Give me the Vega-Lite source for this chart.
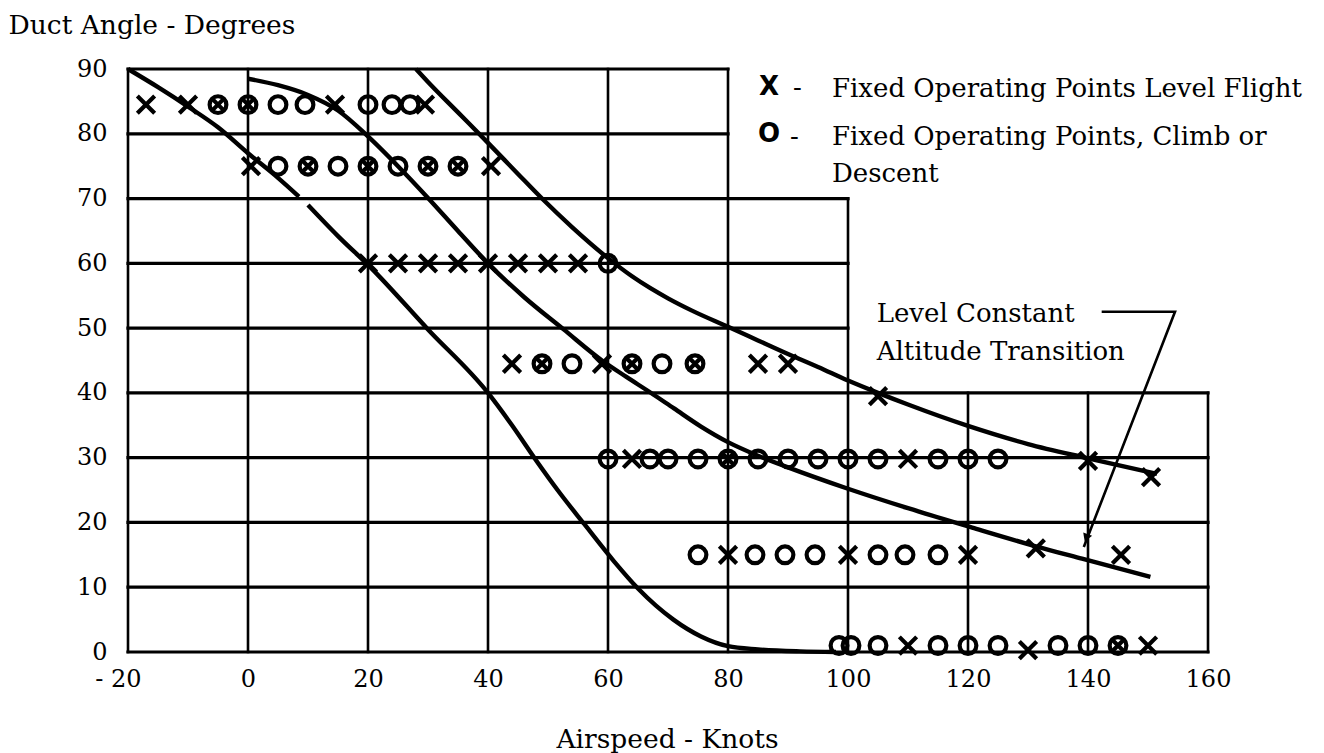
{
  "$schema": "https://vega.github.io/schema/vega-lite/v6.json",
  "width": 1080,
  "height": 583,
  "autosize": {"type": "none"},
  "padding": {"left": 128, "top": 69, "right": 116, "bottom": 101},
  "background": "white",
  "config": {"view": {"stroke": null}},
  "datasets": {
    "grid": [
      {"x": -20, "x2": 80, "y": 90, "y2": 90},
      {"x": -20, "x2": 80, "y": 80, "y2": 80},
      {"x": -20, "x2": 100, "y": 70, "y2": 70},
      {"x": -20, "x2": 100, "y": 60, "y2": 60},
      {"x": -20, "x2": 100, "y": 50, "y2": 50},
      {"x": -20, "x2": 160, "y": 40, "y2": 40},
      {"x": -20, "x2": 160, "y": 30, "y2": 30},
      {"x": -20, "x2": 160, "y": 20, "y2": 20},
      {"x": -20, "x2": 160, "y": 10, "y2": 10},
      {"x": -20, "x2": 160, "y": 0, "y2": 0},
      {"x": -20, "x2": -20, "y": 0, "y2": 90},
      {"x": 0, "x2": 0, "y": 0, "y2": 90},
      {"x": 20, "x2": 20, "y": 0, "y2": 90},
      {"x": 40, "x2": 40, "y": 0, "y2": 90},
      {"x": 60, "x2": 60, "y": 0, "y2": 90},
      {"x": 80, "x2": 80, "y": 0, "y2": 90},
      {"x": 100, "x2": 100, "y": 0, "y2": 70},
      {"x": 120, "x2": 120, "y": 0, "y2": 40},
      {"x": 140, "x2": 140, "y": 0, "y2": 40},
      {"x": 160, "x2": 160, "y": 0, "y2": 40}
    ],
    "curves": [
      {"c": "c1a", "x": -20, "y": 90},
      {"c": "c1a", "x": -15, "y": 87.2},
      {"c": "c1a", "x": -10, "y": 84.2},
      {"c": "c1a", "x": -5, "y": 81},
      {"c": "c1a", "x": 0, "y": 77},
      {"c": "c1a", "x": 5, "y": 73.2},
      {"c": "c1a", "x": 8.5, "y": 70.3},
      {"c": "c1b", "x": 10, "y": 69},
      {"c": "c1b", "x": 15, "y": 64.2},
      {"c": "c1b", "x": 20.5, "y": 59.3},
      {"c": "c1b", "x": 30, "y": 49.8},
      {"c": "c1b", "x": 40, "y": 40},
      {"c": "c1b", "x": 44, "y": 35},
      {"c": "c1b", "x": 48, "y": 29.6},
      {"c": "c1b", "x": 52, "y": 24.5},
      {"c": "c1b", "x": 56, "y": 19.8},
      {"c": "c1b", "x": 61, "y": 14},
      {"c": "c1b", "x": 65, "y": 9.8},
      {"c": "c1b", "x": 70.9, "y": 5},
      {"c": "c1b", "x": 75.5, "y": 2.4},
      {"c": "c1b", "x": 80, "y": 0.9},
      {"c": "c1b", "x": 85, "y": 0.4},
      {"c": "c1b", "x": 92, "y": 0.1},
      {"c": "c1b", "x": 98, "y": 0},
      {"c": "c2", "x": 0, "y": 88.5},
      {"c": "c2", "x": 5, "y": 87.5},
      {"c": "c2", "x": 10, "y": 86},
      {"c": "c2", "x": 15, "y": 83.6},
      {"c": "c2", "x": 20, "y": 79.6},
      {"c": "c2", "x": 25, "y": 75},
      {"c": "c2", "x": 30, "y": 70.1},
      {"c": "c2", "x": 35, "y": 65},
      {"c": "c2", "x": 40, "y": 60},
      {"c": "c2", "x": 46, "y": 54.8},
      {"c": "c2", "x": 52.6, "y": 49.8},
      {"c": "c2", "x": 59, "y": 45},
      {"c": "c2", "x": 63, "y": 42.5},
      {"c": "c2", "x": 67, "y": 40.1},
      {"c": "c2", "x": 71, "y": 37.6},
      {"c": "c2", "x": 75.5, "y": 34.8},
      {"c": "c2", "x": 80, "y": 32.4},
      {"c": "c2", "x": 85, "y": 30.3},
      {"c": "c2", "x": 90, "y": 28.5},
      {"c": "c2", "x": 100, "y": 25.2},
      {"c": "c2", "x": 110, "y": 22.2},
      {"c": "c2", "x": 120.7, "y": 19.2},
      {"c": "c2", "x": 131, "y": 16.4},
      {"c": "c2", "x": 139, "y": 14.4},
      {"c": "c2", "x": 150.4, "y": 11.6},
      {"c": "c3", "x": 28, "y": 90},
      {"c": "c3", "x": 30, "y": 88},
      {"c": "c3", "x": 35, "y": 83.3},
      {"c": "c3", "x": 40, "y": 78.6},
      {"c": "c3", "x": 45, "y": 73.8},
      {"c": "c3", "x": 49, "y": 70},
      {"c": "c3", "x": 54, "y": 65.6},
      {"c": "c3", "x": 60, "y": 60.8},
      {"c": "c3", "x": 64, "y": 58},
      {"c": "c3", "x": 67, "y": 56.2},
      {"c": "c3", "x": 70, "y": 54.6},
      {"c": "c3", "x": 74, "y": 52.7},
      {"c": "c3", "x": 80, "y": 50.2},
      {"c": "c3", "x": 85, "y": 48.1},
      {"c": "c3", "x": 90, "y": 46},
      {"c": "c3", "x": 95, "y": 44},
      {"c": "c3", "x": 100, "y": 41.9},
      {"c": "c3", "x": 105, "y": 40},
      {"c": "c3", "x": 110, "y": 38.2},
      {"c": "c3", "x": 120, "y": 34.9},
      {"c": "c3", "x": 130, "y": 32.1},
      {"c": "c3", "x": 140, "y": 29.9},
      {"c": "c3", "x": 151.5, "y": 27.5}
    ],
    "pts": [
      {"m": "X", "x": -17, "y": 84.5},
      {"m": "X", "x": -10, "y": 84.5},
      {"m": "XO", "x": -5, "y": 84.5},
      {"m": "XO", "x": 0, "y": 84.5},
      {"m": "O", "x": 5, "y": 84.5},
      {"m": "O", "x": 9.5, "y": 84.5},
      {"m": "X", "x": 14.5, "y": 84.5},
      {"m": "O", "x": 20, "y": 84.5},
      {"m": "O", "x": 24, "y": 84.5},
      {"m": "O", "x": 27, "y": 84.5},
      {"m": "X", "x": 29.5, "y": 84.5},
      {"m": "X", "x": 0.5, "y": 75},
      {"m": "O", "x": 5, "y": 75},
      {"m": "XO", "x": 10, "y": 75},
      {"m": "O", "x": 15, "y": 75},
      {"m": "XO", "x": 20, "y": 75},
      {"m": "O", "x": 25, "y": 75},
      {"m": "XO", "x": 30, "y": 75},
      {"m": "XO", "x": 35, "y": 75},
      {"m": "X", "x": 40.5, "y": 75},
      {"m": "X", "x": 20, "y": 60},
      {"m": "X", "x": 25, "y": 60},
      {"m": "X", "x": 30, "y": 60},
      {"m": "X", "x": 35, "y": 60},
      {"m": "X", "x": 40, "y": 60},
      {"m": "X", "x": 45, "y": 60},
      {"m": "X", "x": 50, "y": 60},
      {"m": "X", "x": 55, "y": 60},
      {"m": "O", "x": 60, "y": 60},
      {"m": "X", "x": 44, "y": 44.5},
      {"m": "XO", "x": 49, "y": 44.5},
      {"m": "O", "x": 54, "y": 44.5},
      {"m": "X", "x": 59, "y": 44.5},
      {"m": "XO", "x": 64, "y": 44.5},
      {"m": "O", "x": 69, "y": 44.5},
      {"m": "XO", "x": 74.5, "y": 44.5},
      {"m": "X", "x": 85, "y": 44.5},
      {"m": "X", "x": 90, "y": 44.5},
      {"m": "X", "x": 105, "y": 39.5},
      {"m": "O", "x": 60, "y": 29.8},
      {"m": "X", "x": 64, "y": 29.8},
      {"m": "O", "x": 67, "y": 29.8},
      {"m": "O", "x": 70, "y": 29.8},
      {"m": "O", "x": 75, "y": 29.8},
      {"m": "XO", "x": 80, "y": 29.8},
      {"m": "O", "x": 85, "y": 29.8},
      {"m": "O", "x": 90, "y": 29.8},
      {"m": "O", "x": 95, "y": 29.8},
      {"m": "O", "x": 100, "y": 29.8},
      {"m": "O", "x": 105, "y": 29.8},
      {"m": "X", "x": 110, "y": 29.8},
      {"m": "O", "x": 115, "y": 29.8},
      {"m": "O", "x": 120, "y": 29.8},
      {"m": "O", "x": 125, "y": 29.8},
      {"m": "X", "x": 140, "y": 29.5},
      {"m": "X", "x": 150.5, "y": 27},
      {"m": "O", "x": 75, "y": 15},
      {"m": "X", "x": 80, "y": 15},
      {"m": "O", "x": 84.5, "y": 15},
      {"m": "O", "x": 89.5, "y": 15},
      {"m": "O", "x": 94.5, "y": 15},
      {"m": "X", "x": 100, "y": 15},
      {"m": "O", "x": 105, "y": 15},
      {"m": "O", "x": 109.5, "y": 15},
      {"m": "O", "x": 115, "y": 15},
      {"m": "X", "x": 120, "y": 15},
      {"m": "X", "x": 131.3, "y": 16},
      {"m": "X", "x": 145.5, "y": 15},
      {"m": "O", "x": 98.5, "y": 1},
      {"m": "O", "x": 100.5, "y": 1},
      {"m": "O", "x": 105, "y": 1},
      {"m": "X", "x": 110, "y": 1},
      {"m": "O", "x": 115, "y": 1},
      {"m": "O", "x": 120, "y": 1},
      {"m": "O", "x": 125, "y": 1},
      {"m": "X", "x": 130, "y": 0.3},
      {"m": "O", "x": 135, "y": 1},
      {"m": "O", "x": 140, "y": 1},
      {"m": "XO", "x": 145, "y": 1},
      {"m": "X", "x": 150, "y": 1}
    ],
    "syms": [
      {"x": 86.83, "y": 85.99, "t": "X"},
      {"x": 86.83, "y": 78.78, "t": "O"}
    ],
    "notes": [
      {"x": 90.83, "y": 85.9, "t": "-"},
      {"x": 97.33, "y": 85.73, "t": "Fixed Operating Points Level Flight"},
      {"x": 90.33, "y": 78.3, "t": "-"},
      {"x": 97.33, "y": 78.27, "t": "Fixed Operating Points, Climb or"},
      {"x": 97.33, "y": 72.56, "t": "Descent"},
      {"x": 104.78, "y": 50.99, "t": "Level Constant"},
      {"x": 104.78, "y": 45.08, "t": "Altitude Transition"}
    ],
    "leader": [
      {"i": 0, "x": 142.28, "y": 52.53},
      {"i": 1, "x": 154.5, "y": 52.53},
      {"i": 2, "x": 139.3, "y": 16.2}
    ],
    "arrow": [
      {"x": 139.7, "y": 17.6}
    ]
  },
  "encoding": {
    "x": {
      "field": "x",
      "type": "quantitative",
      "scale": {"domain": [-20, 160], "nice": false, "zero": false},
      "axis": {
        "title": "Airspeed - Knots",
        "values": [-20, 0, 20, 40, 60, 80, 100, 120, 140, 160],
        "labelExpr": "datum.value < 0 ? '- ' + abs(datum.value) : datum.label",
        "labelOffset": {"condition": {"test": "datum.value < 0", "value": -10}, "value": 0},
        "domain": false,
        "ticks": false,
        "tickSize": 0,
        "grid": false,
        "labelFlush": false,
        "labelOverlap": false,
        "labelFont": "DejaVu Serif",
        "labelFontSize": 24,
        "labelColor": "black",
        "labelPadding": 15,
        "titleFont": "DejaVu Serif",
        "titleFontSize": 26.5,
        "titleFontWeight": "normal",
        "titleColor": "black",
        "titleX": 539,
        "titleY": 95,
        "titleAlign": "center",
        "titleBaseline": "alphabetic"
      }
    },
    "y": {
      "field": "y",
      "type": "quantitative",
      "scale": {"domain": [0, 90], "nice": false, "zero": false},
      "axis": {
        "title": "Duct Angle - Degrees",
        "values": [0, 10, 20, 30, 40, 50, 60, 70, 80, 90],
        "domain": false,
        "ticks": false,
        "tickSize": 0,
        "grid": false,
        "labelFlush": false,
        "labelOverlap": false,
        "labelFont": "DejaVu Serif",
        "labelFontSize": 24,
        "labelColor": "black",
        "labelPadding": 21,
        "titleFont": "DejaVu Serif",
        "titleFontSize": 26.5,
        "titleFontWeight": "normal",
        "titleColor": "black",
        "titleAngle": 0,
        "titleAlign": "left",
        "titleBaseline": "alphabetic",
        "titleX": -120,
        "titleY": -36
      }
    }
  },
  "layer": [
    {
      "data": {"name": "grid"},
      "transform": [{"filter": "datum.y == datum.y2"}],
      "mark": {"type": "rule", "stroke": "black", "strokeWidth": 3.2, "strokeCap": "square"},
      "encoding": {"x2": {"field": "x2"}, "y2": {"field": "y2"}}
    },
    {
      "data": {"name": "grid"},
      "transform": [{"filter": "datum.x == datum.x2"}],
      "mark": {"type": "rule", "stroke": "black", "strokeWidth": 2.6, "strokeCap": "square"},
      "encoding": {"x2": {"field": "x2"}, "y2": {"field": "y2"}}
    },
    {
      "data": {"name": "curves"},
      "mark": {"type": "line", "stroke": "black", "strokeWidth": 4.4, "interpolate": "monotone"},
      "encoding": {"detail": {"field": "c", "type": "nominal"}}
    },
    {
      "data": {"name": "pts"},
      "transform": [{"filter": "datum.m != 'X'"}],
      "mark": {"type": "point", "shape": "circle", "filled": false, "stroke": "black", "strokeWidth": 4.2, "size": 280, "opacity": 1}
    },
    {
      "data": {"name": "pts"},
      "transform": [{"filter": "datum.m != 'O'"}],
      "mark": {"type": "point", "shape": "M-1,-1L1,1M-1,1L1,-1", "filled": false, "stroke": "black", "strokeWidth": 4.2, "opacity": 1},
      "encoding": {"size": {"field": "m", "type": "nominal", "scale": {"domain": ["X", "XO"], "range": [300, 100]}, "legend": null}}
    },
    {
      "data": {"name": "leader"},
      "mark": {"type": "line", "stroke": "black", "strokeWidth": 2.6},
      "encoding": {"order": {"field": "i", "type": "quantitative"}}
    },
    {
      "data": {"name": "arrow"},
      "mark": {"type": "point", "shape": "triangle-down", "filled": true, "color": "black", "size": 90, "angle": 21, "opacity": 1}
    },
    {
      "data": {"name": "syms"},
      "mark": {"type": "text", "align": "center", "baseline": "alphabetic", "font": "DejaVu Sans", "fontWeight": "bold", "fontSize": 26, "color": "black"},
      "encoding": {"text": {"field": "t", "type": "nominal"}}
    },
    {
      "data": {"name": "notes"},
      "mark": {"type": "text", "align": "left", "baseline": "alphabetic", "font": "DejaVu Serif", "fontSize": 26, "color": "black"},
      "encoding": {"text": {"field": "t", "type": "nominal"}}
    }
  ]
}
